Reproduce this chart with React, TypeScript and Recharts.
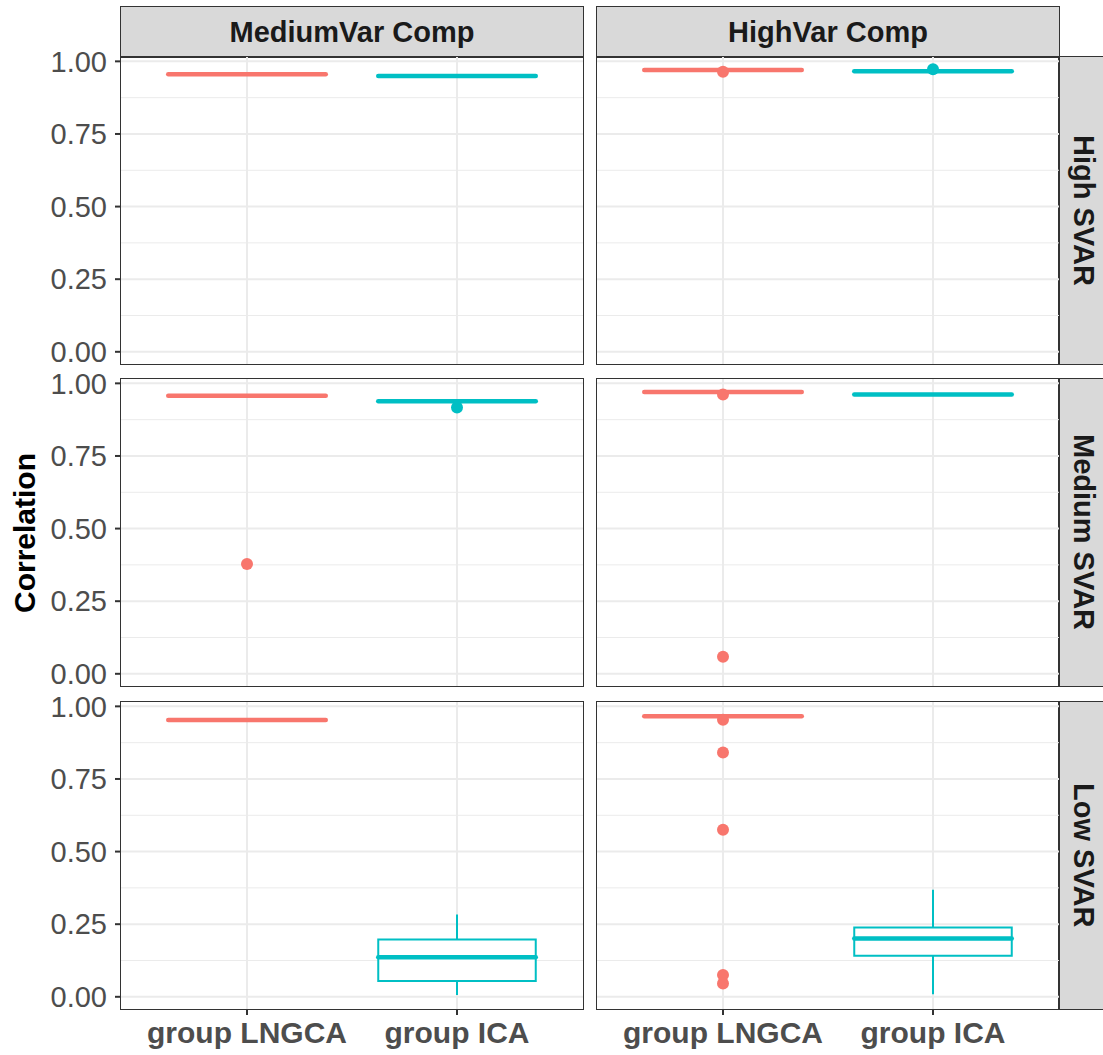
import {
  ComposedChart,
  XAxis,
  YAxis,
  CartesianGrid,
  ReferenceLine,
  ReferenceArea,
  Scatter,
} from 'recharts';

const FONT = '"Liberation Sans", Arial, Helvetica, sans-serif';

const colFacets = ['MediumVar Comp', 'HighVar Comp'];
const rowFacets = ['High SVAR', 'Medium SVAR', 'Low SVAR'];
const groups = ['group LNGCA', 'group ICA'];
const groupColors = ['#F8766D', '#00BFC4'];
const yTicks = [0, 0.25, 0.5, 0.75, 1];
const yMinor = [0.125, 0.375, 0.625, 0.875];

// five-number summaries [lower, q1, median, q3, upper], rows x cols
const lngcaBoxes = [
  [[0.956, 0.956, 0.956, 0.956, 0.956], [0.97, 0.97, 0.97, 0.97, 0.97]],
  [[0.957, 0.957, 0.957, 0.957, 0.957], [0.97, 0.97, 0.97, 0.97, 0.97]],
  [[0.953, 0.953, 0.953, 0.953, 0.953], [0.966, 0.966, 0.966, 0.966, 0.966]],
];
const icaBoxes = [
  [[0.95, 0.95, 0.95, 0.95, 0.95], [0.966, 0.966, 0.966, 0.966, 0.966]],
  [[0.938, 0.938, 0.938, 0.938, 0.938], [0.962, 0.962, 0.962, 0.962, 0.962]],
  [[0.006, 0.054, 0.136, 0.197, 0.283], [0.009, 0.141, 0.201, 0.239, 0.369]],
];

const lngcaOutliers = [
  [[], [0.964]],
  [[0.378], [0.962, 0.059]],
  [[], [0.954, 0.841, 0.575, 0.075, 0.046]],
];
const icaOutliers = [
  [[], [0.973]],
  [[0.917], []],
  [[], []],
];

const plotLeft = [121, 597];
const rowTop = [57, 379, 702];
const plotW = 462;
const plotH = 307;
const yDomain = [-0.042, 1.015];
const halfBox = 0.375;
const pad = 14;

function Panel({ row, col }: { row: number; col: number }) {
  const isLeft = col === 0;
  const isBottom = row === 2;
  const yW = isLeft ? 121 : 0;
  const xH = isBottom ? 46 : 0;
  const padBottom = isBottom ? 0 : pad;
  const boxes = [lngcaBoxes[row][col], icaBoxes[row][col]];
  const outs = [lngcaOutliers[row][col], icaOutliers[row][col]];

  return (
    <div style={{ position: 'absolute', left: plotLeft[col] - yW, top: rowTop[row] - pad }}>
      <ComposedChart
        width={plotW + yW}
        height={plotH + xH + pad + padBottom}
        margin={{ top: pad, right: 0, bottom: padBottom, left: 0 }}
      >
        <CartesianGrid
          horizontalValues={yMinor}
          vertical={false}
          stroke="#EBEBEB"
          strokeWidth={1}
        />
        <CartesianGrid
          horizontalValues={yTicks}
          verticalValues={[1, 2]}
          stroke="#EBEBEB"
          strokeWidth={2}
        />
        <XAxis
          type="number"
          dataKey="x"
          domain={[0.4, 2.6]}
          ticks={[1, 2]}
          interval={0}
          allowDataOverflow
          hide={!isBottom}
          height={xH}
          axisLine={false}
          tickSize={6}
          tickMargin={7}
          tickLine={{ stroke: '#333333', strokeWidth: 2 }}
          tickFormatter={(v: number) => groups[v - 1]}
          tick={{ fill: '#4D4D4D', fontSize: 30, fontWeight: 'bold', fontFamily: FONT }}
        />
        <YAxis
          type="number"
          dataKey="y"
          domain={yDomain}
          ticks={yTicks}
          interval={0}
          allowDataOverflow
          hide={!isLeft}
          width={yW}
          axisLine={false}
          tickSize={6}
          tickMargin={8}
          tickLine={{ stroke: '#333333', strokeWidth: 2 }}
          tickFormatter={(v: number) => v.toFixed(2)}
          tick={{ fill: '#4D4D4D', fontSize: 29, fontFamily: FONT }}
        />
        {boxes.map(([lo, q1, med, q3, hi], i) => {
          const c = i + 1;
          const color = groupColors[i];
          return [
            hi > q3 && (
              <ReferenceLine
                key={`wu${i}`}
                segment={[{ x: c, y: q3 }, { x: c, y: hi }]}
                stroke={color}
                strokeWidth={2}
              />
            ),
            lo < q1 && (
              <ReferenceLine
                key={`wl${i}`}
                segment={[{ x: c, y: lo }, { x: c, y: q1 }]}
                stroke={color}
                strokeWidth={2}
              />
            ),
            q3 > q1 && (
              <ReferenceArea
                key={`b${i}`}
                x1={c - halfBox}
                x2={c + halfBox}
                y1={q1}
                y2={q3}
                fill="#FFFFFF"
                fillOpacity={1}
                stroke={color}
                strokeWidth={2}
              />
            ),
            <ReferenceLine
              key={`m${i}`}
              segment={[{ x: c - halfBox, y: med }, { x: c + halfBox, y: med }]}
              stroke={color}
              strokeWidth={4.5}
              strokeLinecap="round"
            />,
          ];
        })}
        {outs.map((vals, i) =>
          vals.length > 0 ? (
            <Scatter
              key={`o${i}`}
              data={vals.map((v) => ({ x: i + 1, y: v }))}
              fill={groupColors[i]}
              isAnimationActive={false}
              shape={(p: any) => <circle cx={p.cx} cy={p.cy} r={6} fill={groupColors[i]} />}
            />
          ) : null
        )}
      </ComposedChart>
      <div
        style={{
          position: 'absolute',
          left: yW - 1,
          top: pad - 1,
          width: plotW + 2,
          height: plotH + 2,
          border: '1.5px solid #333333',
          boxSizing: 'border-box',
          pointerEvents: 'none',
        }}
      />
    </div>
  );
}

export default function App() {
  return (
    <div
      style={{
        position: 'absolute',
        left: 0,
        top: 0,
        width: 1103,
        height: 1055,
        overflow: 'hidden',
        background: '#FFFFFF',
        fontFamily: FONT,
      }}
    >
      {colFacets.map((name, c) => (
        <div
          key={name}
          style={{
            position: 'absolute',
            left: plotLeft[c] - 1,
            top: 6,
            width: plotW + 2,
            height: 52,
            background: '#D9D9D9',
            border: '1.5px solid #333333',
            boxSizing: 'border-box',
            display: 'flex',
            alignItems: 'center',
            justifyContent: 'center',
            fontSize: 29,
            fontWeight: 'bold',
            color: '#1A1A1A',
          }}
        >
          {name}
        </div>
      ))}
      {rowFacets.map((name, r) => (
        <div
          key={name}
          style={{
            position: 'absolute',
            left: 1058,
            top: rowTop[r] - 1,
            width: 52,
            height: plotH + 2,
            background: '#D9D9D9',
            border: '1.5px solid #333333',
            boxSizing: 'border-box',
            display: 'flex',
            alignItems: 'center',
            justifyContent: 'flex-start',
            paddingLeft: 8,
            fontSize: 29,
            fontWeight: 'bold',
            color: '#1A1A1A',
          }}
        >
          <span style={{ writingMode: 'vertical-rl', whiteSpace: 'nowrap' }}>{name}</span>
        </div>
      ))}
      {rowFacets.map((_, r) =>
        colFacets.map((__, c) => <Panel key={`${r}-${c}`} row={r} col={c} />)
      )}
      <div
        style={{
          position: 'absolute',
          left: 25,
          top: 533,
          transform: 'translate(-50%, -50%) rotate(-90deg)',
          fontSize: 30,
          fontWeight: 'bold',
          color: '#000000',
          whiteSpace: 'nowrap',
        }}
      >
        Correlation
      </div>
    </div>
  );
}
